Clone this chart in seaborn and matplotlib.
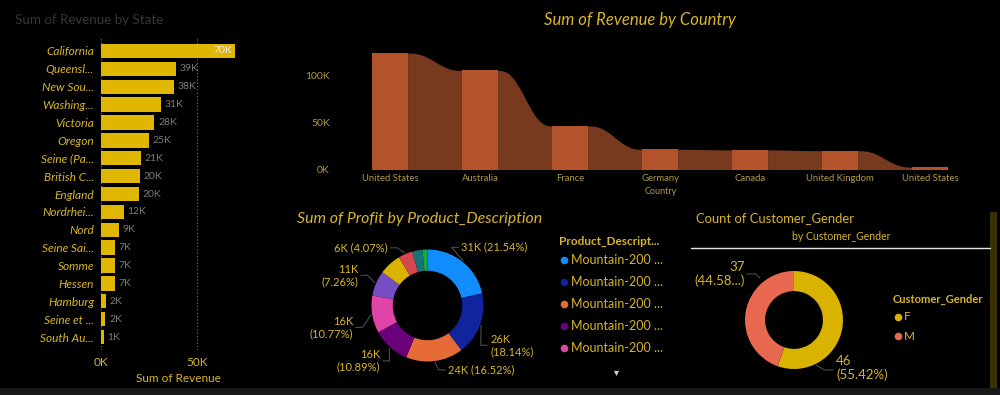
import numpy as np
import matplotlib
matplotlib.use("Agg")
import matplotlib.pyplot as plt
from matplotlib.patches import Rectangle
import seaborn as sns

# ---- data ----
state_labels = ["California", "Queensl...", "New Sou...", "Washing...", "Victoria", "Oregon",
                "Seine (Pa...", "British C...", "England", "Nordrhei...", "Nord", "Seine Sai...",
                "Somme", "Hessen", "Hamburg", "Seine et ...", "South Au..."]
state_revenue_k = [70.0, 38.9, 38.0, 31.1, 27.8, 24.8, 20.6, 20.1, 19.8, 11.8, 9.4, 7.3, 7.2, 7.1,
                   2.4, 2.3, 1.4]

countries = ["United States", "Australia", "France", "Germany", "Canada", "United Kingdom",
             "United States"]
country_revenue_k = [124.4, 105.8, 46.6, 21.6, 20.9, 20.1, 2.5]

profit_pct = [21.54, 18.14, 16.52, 10.89, 10.77, 7.26, 6.40, 4.07, 3.00, 1.41]
profit_total_k = 146
profit_legend = ["Mountain-200 ...", "Mountain-200 ...", "Mountain-200 ...",
                 "Mountain-200 ...", "Mountain-200 ..."]

genders = ["F", "M"]
gender_count = [46, 37]

# ---- styling ----
W, H = 1000, 395
BG = "#000000"
GOLD = "#d9b52b"
GOLD_DIM = "#b09a45"
BAR_GOLD = "#e0b700"
BAR_ORANGE = "#b2532c"
RIBBON = "#783a1e"
PBI = ["#118dff", "#12239e", "#e66c37", "#6b007b", "#e044a7", "#744ec2", "#d9b300",
       "#d64550", "#197278", "#1aab40"]
GENDER_COLORS = ["#d9b300", "#e8694f"]

sns.set_theme(style="dark", rc={"axes.facecolor": BG, "figure.facecolor": BG})
plt.rcParams["font.family"] = ["Lato", "DejaVu Sans"]


def box(x0, y0, x1, y1):
    return [x0 / W, 1 - y1 / H, (x1 - x0) / W, (y1 - y0) / H]


def clean(ax):
    for s in ax.spines.values():
        s.set_visible(False)
    ax.set_facecolor("none")
    ax.tick_params(length=0)


fig = plt.figure(figsize=(10, 3.95), dpi=100, facecolor=BG)

# ---- Sum of Revenue by State ----
ax1 = fig.add_axes(box(101, 37, 245, 350))
sns.barplot(x=state_revenue_k, y=state_labels, orient="h", color=BAR_GOLD, width=0.8,
            saturation=1, linewidth=0, ax=ax1, zorder=2)
clean(ax1)
ax1.set_xlim(0, 75)
ax1.set_ylim(16.727, -0.783)
ax1.set_xticks([0, 50])
ax1.set_xticklabels(["0K", "50K"], color=GOLD, fontsize=8.5)
ax1.tick_params(axis="x", pad=5)
ax1.tick_params(axis="y", pad=5)
for lab in ax1.get_yticklabels():
    lab.set_color(GOLD)
    lab.set_fontsize(8.6)
    lab.set_style("italic")
ax1.xaxis.grid(True, linestyle=(0, (1, 2)), color="#777777", lw=0.8)
ax1.yaxis.grid(False)
ax1.set_axisbelow(True)
ax1.set_xlabel("")
ax1.set_ylabel("")
for i, v in enumerate(state_revenue_k):
    if i == 0:
        ax1.text(v - 1.5, i, f"{v:.0f}K", ha="right", va="center", color="#eeeeee", fontsize=7.5)
    else:
        ax1.text(v + 2, i, f"{v:.0f}K", ha="left", va="center", color="#7a7a7a", fontsize=7.5)
fig.text(15 / W, 1 - 20 / H, "Sum of Revenue by State", color="#363636", fontsize=9.6,
         ha="left", va="center")
fig.text(178 / W, 1 - 378 / H, "Sum of Revenue", color=GOLD, fontsize=8.5, ha="center", va="center")

# ---- Sum of Revenue by Country (ribbon) ----
ax2 = fig.add_axes(box(345, 45, 975, 169.5))
pos = np.arange(len(countries))
bw = 0.39
sns.barplot(x=pos, y=country_revenue_k, color=BAR_ORANGE, width=bw, saturation=1, linewidth=0,
            ax=ax2, zorder=3)
for i in range(len(pos) - 1):
    xs = np.linspace(i + bw / 2, i + 1 - bw / 2, 80)
    t = (xs - xs[0]) / (xs[-1] - xs[0])
    s = t ** 3 * (10 - 15 * t + 6 * t ** 2)
    ys = country_revenue_k[i] + (country_revenue_k[i + 1] - country_revenue_k[i]) * s
    ax2.fill_between(xs, 0, ys, color=RIBBON, lw=0, zorder=2)
clean(ax2)
ax2.grid(False)
ax2.set_xlim(-0.5, 6.5)
ax2.set_ylim(0, 133)
ax2.set_yticks([0, 50, 100])
ax2.set_yticklabels(["0K", "50K", "100K"], color=GOLD_DIM, fontsize=7.5)
ax2.set_xticks(pos)
ax2.set_xticklabels(countries, color=GOLD_DIM, fontsize=6.8)
ax2.tick_params(axis="y", pad=11)
ax2.tick_params(axis="x", pad=3)
ax2.set_xlabel("")
ax2.set_ylabel("")
fig.text(661 / W, 1 - 192 / H, "Country", color=GOLD_DIM, fontsize=6.5, ha="center", va="center")
fig.text(640 / W, 1 - 20 / H, "Sum of Revenue by Country", color=GOLD, fontsize=12,
         style="italic", ha="center", va="center")

# ---- Sum of Profit by Product_Description (donut) ----
cx, cy, R = 427.5, 305.5, 56
ax3 = fig.add_axes(box(cx - R, cy - R, cx + R, cy + R))
ax3.pie(profit_pct, colors=PBI, startangle=90, counterclock=False, radius=1,
        wedgeprops=dict(width=0.38, edgecolor="none"))
ax3.set_xlim(-1, 1)
ax3.set_ylim(-1, 1)
ax3.axis("off")
# label anchors (unit radius), alignment, line break
profit_label_layout = {
    0: (0.60, 1.04, "left", False),
    1: (1.12, -0.71, "left", True),
    2: (0.37, -1.15, "left", False),
    3: (-0.85, -0.99, "right", True),
    4: (-1.33, -0.39, "right", True),
    5: (-1.24, 0.54, "right", True),
    7: (-0.71, 1.03, "right", False),
}
cum = np.cumsum([0] + profit_pct)
for i, (lx, ly, ha, two) in profit_label_layout.items():
    pct = profit_pct[i]
    k = pct * profit_total_k / 100
    sep = "\n" if two else " "
    txt = f"{k:.0f}K{sep}({pct:.2f}%)"
    ax3.text(lx, ly, txt, ha=ha, va="center", color=GOLD, fontsize=8, multialignment=ha,
             clip_on=False, linespacing=1.15)
    mid = np.deg2rad((cum[i] + cum[i + 1]) / 2 * 3.6)
    p0 = np.array([np.sin(mid), np.cos(mid)]) * 1.02
    sgn = 1 if ha == "left" else -1
    p2 = np.array([lx - sgn * 0.05, ly])
    p1 = np.array([p2[0] - sgn * 0.12, p2[1]])
    ax3.plot([p0[0], p1[0], p2[0]], [p0[1], p1[1], p2[1]], color="#555555", lw=0.7, clip_on=False)
fig.text(297 / W, 1 - 219 / H, "Sum of Profit by Product_Description", color=GOLD, fontsize=11.4,
         style="italic", ha="left", va="center")

# ---- Count of Customer_Gender (donut) ----
gx, gy, GR = 794, 320, 49
ax4 = fig.add_axes(box(gx - GR, gy - GR, gx + GR, gy + GR))
ax4.pie(gender_count, colors=GENDER_COLORS, startangle=90, counterclock=False, radius=1,
        wedgeprops=dict(width=0.41, edgecolor="none"))
ax4.set_xlim(-1, 1)
ax4.set_ylim(-1, 1)
ax4.axis("off")
gtot = sum(gender_count)
f_pct = gender_count[0] / gtot * 100
m_pct = gender_count[1] / gtot * 100
ax4.text(0.86, -0.98, f"{gender_count[0]}\n({f_pct:.2f}%)", ha="left", va="center", color=GOLD,
         fontsize=9.5, clip_on=False, linespacing=1.2)
ax4.text(-1.0, 0.94, f"{gender_count[1]}\n({m_pct:.2f}...)", ha="right", va="center",
         color=GOLD, fontsize=9.5, multialignment="right", clip_on=False, linespacing=1.2)
ax4.plot([0.45, 0.62, 0.80], [-0.92, -1.02, -1.02], color="#555555", lw=0.7, clip_on=False)
ax4.plot([-0.70, -0.78, -0.96], [0.86, 0.94, 0.94], color="#555555", lw=0.7, clip_on=False)

fig.text(696 / W, 1 - 218 / H, "Count of Customer_Gender", color=GOLD, fontsize=9.4,
         ha="left", va="center")
fig.text(841 / W, 1 - 236 / H, "by Customer_Gender", color=GOLD, fontsize=7.6,
         ha="center", va="center")

# ---- overlay: legends, separators, scrollbar ----
ov = fig.add_axes([0, 0, 1, 1])
ov.set_xlim(0, W)
ov.set_ylim(H, 0)
ov.axis("off")
ov.add_patch(Rectangle((0, 388), W, 7, color="#181818", lw=0))
ov.add_patch(Rectangle((990, 212), 7, 176, color="#3a3000", lw=0))
ov.plot([691, 990], [248, 248], color="#e6e6e6", lw=1)

ov.text(559, 241, "Product_Descript...", color=GOLD, fontsize=8.5, fontweight="bold",
        ha="left", va="center")
for j, lab in enumerate(profit_legend):
    yy = 260 + j * 22
    ov.scatter(564, yy, s=30, color=PBI[j], lw=0)
    ov.text(571, yy, lab, color=GOLD, fontsize=9, ha="left", va="center")
ov.scatter(616, 373, marker="v", s=14, color="#cccccc", lw=0)

ov.text(893, 299, "Customer_Gender", color=GOLD, fontsize=8, fontweight="bold",
        ha="left", va="center")
for j, g in enumerate(genders):
    yy = 317 + j * 19
    ov.scatter(898, yy, s=30, color=GENDER_COLORS[j], lw=0)
    ov.text(904, yy, g, color=GOLD, fontsize=8.5, ha="left", va="center")

fig.savefig("out.png", dpi=100, facecolor=BG)
